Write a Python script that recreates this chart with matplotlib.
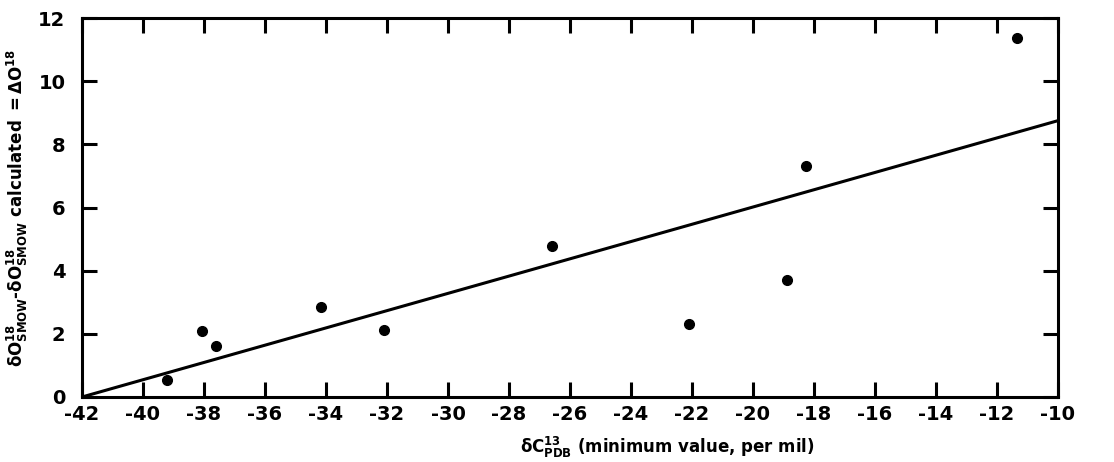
import matplotlib
matplotlib.use("Agg")
import matplotlib.pyplot as plt

# minimum delta C13 (PDB) against the oxygen-18 difference
d13c = [-39.2, -38.05, -37.6, -34.15, -32.1, -26.6, -22.1, -18.9, -18.25, -11.35]
d18o = [0.55, 2.08, 1.62, 2.86, 2.11, 4.79, 2.31, 3.70, 7.31, 11.37]

# fitted line end points
fit_x = [-42, -10]
fit_y = [0.0, 8.75]

xticks = list(range(-42, -9, 2))
yticks = list(range(0, 13, 2))

plt.rcParams['font.family'] = 'DejaVu Sans'
plt.rcParams['mathtext.fontset'] = 'custom'
plt.rcParams['mathtext.rm'] = 'DejaVu Sans:bold'
plt.rcParams['mathtext.it'] = 'DejaVu Sans:bold'
plt.rcParams['mathtext.bf'] = 'DejaVu Sans:bold'

fig = plt.figure(figsize=(11.14, 4.62), dpi=100)
ax = fig.add_axes([0.0736, 0.1407, 0.8761, 0.8203])

ax.plot(fit_x, fit_y, color='black', lw=2.2, solid_capstyle='butt')
ax.plot(d13c, d18o, 'o', color='black', ms=7)

ax.set_xlim(-42, -10)
ax.set_ylim(0, 12)
ax.set_xticks(xticks)
ax.set_yticks(yticks)
ax.set_xticklabels([str(t) for t in xticks], fontsize=14, fontweight='bold')
ax.set_yticklabels([str(t) for t in yticks], fontsize=14, fontweight='bold')

ax.tick_params(direction='in', length=11, width=2.2, top=True, right=True,
               labeltop=False, labelright=False)
ax.tick_params(axis='x', pad=6)
ax.tick_params(axis='y', pad=12)
for s in ax.spines.values():
    s.set_linewidth(2.2)

ax.set_xlabel(r'$\delta \mathrm{C}^{13}_{\mathrm{PDB}}$ (minimum value, per mil)',
              fontsize=12, fontweight='bold')
ax.xaxis.set_label_coords(0.6, -0.1)
ax.set_ylabel(r'$\delta \mathrm{O}^{18}_{\mathrm{SMOW}}$-$\delta \mathrm{O}^{18}_{\mathrm{SMOW}}$'
              r' calculated $= \Delta \mathrm{O}^{18}$',
              fontsize=12, fontweight='bold')
ax.yaxis.set_label_coords(-0.053, 0.5)

fig.savefig('out.png', dpi=100)
